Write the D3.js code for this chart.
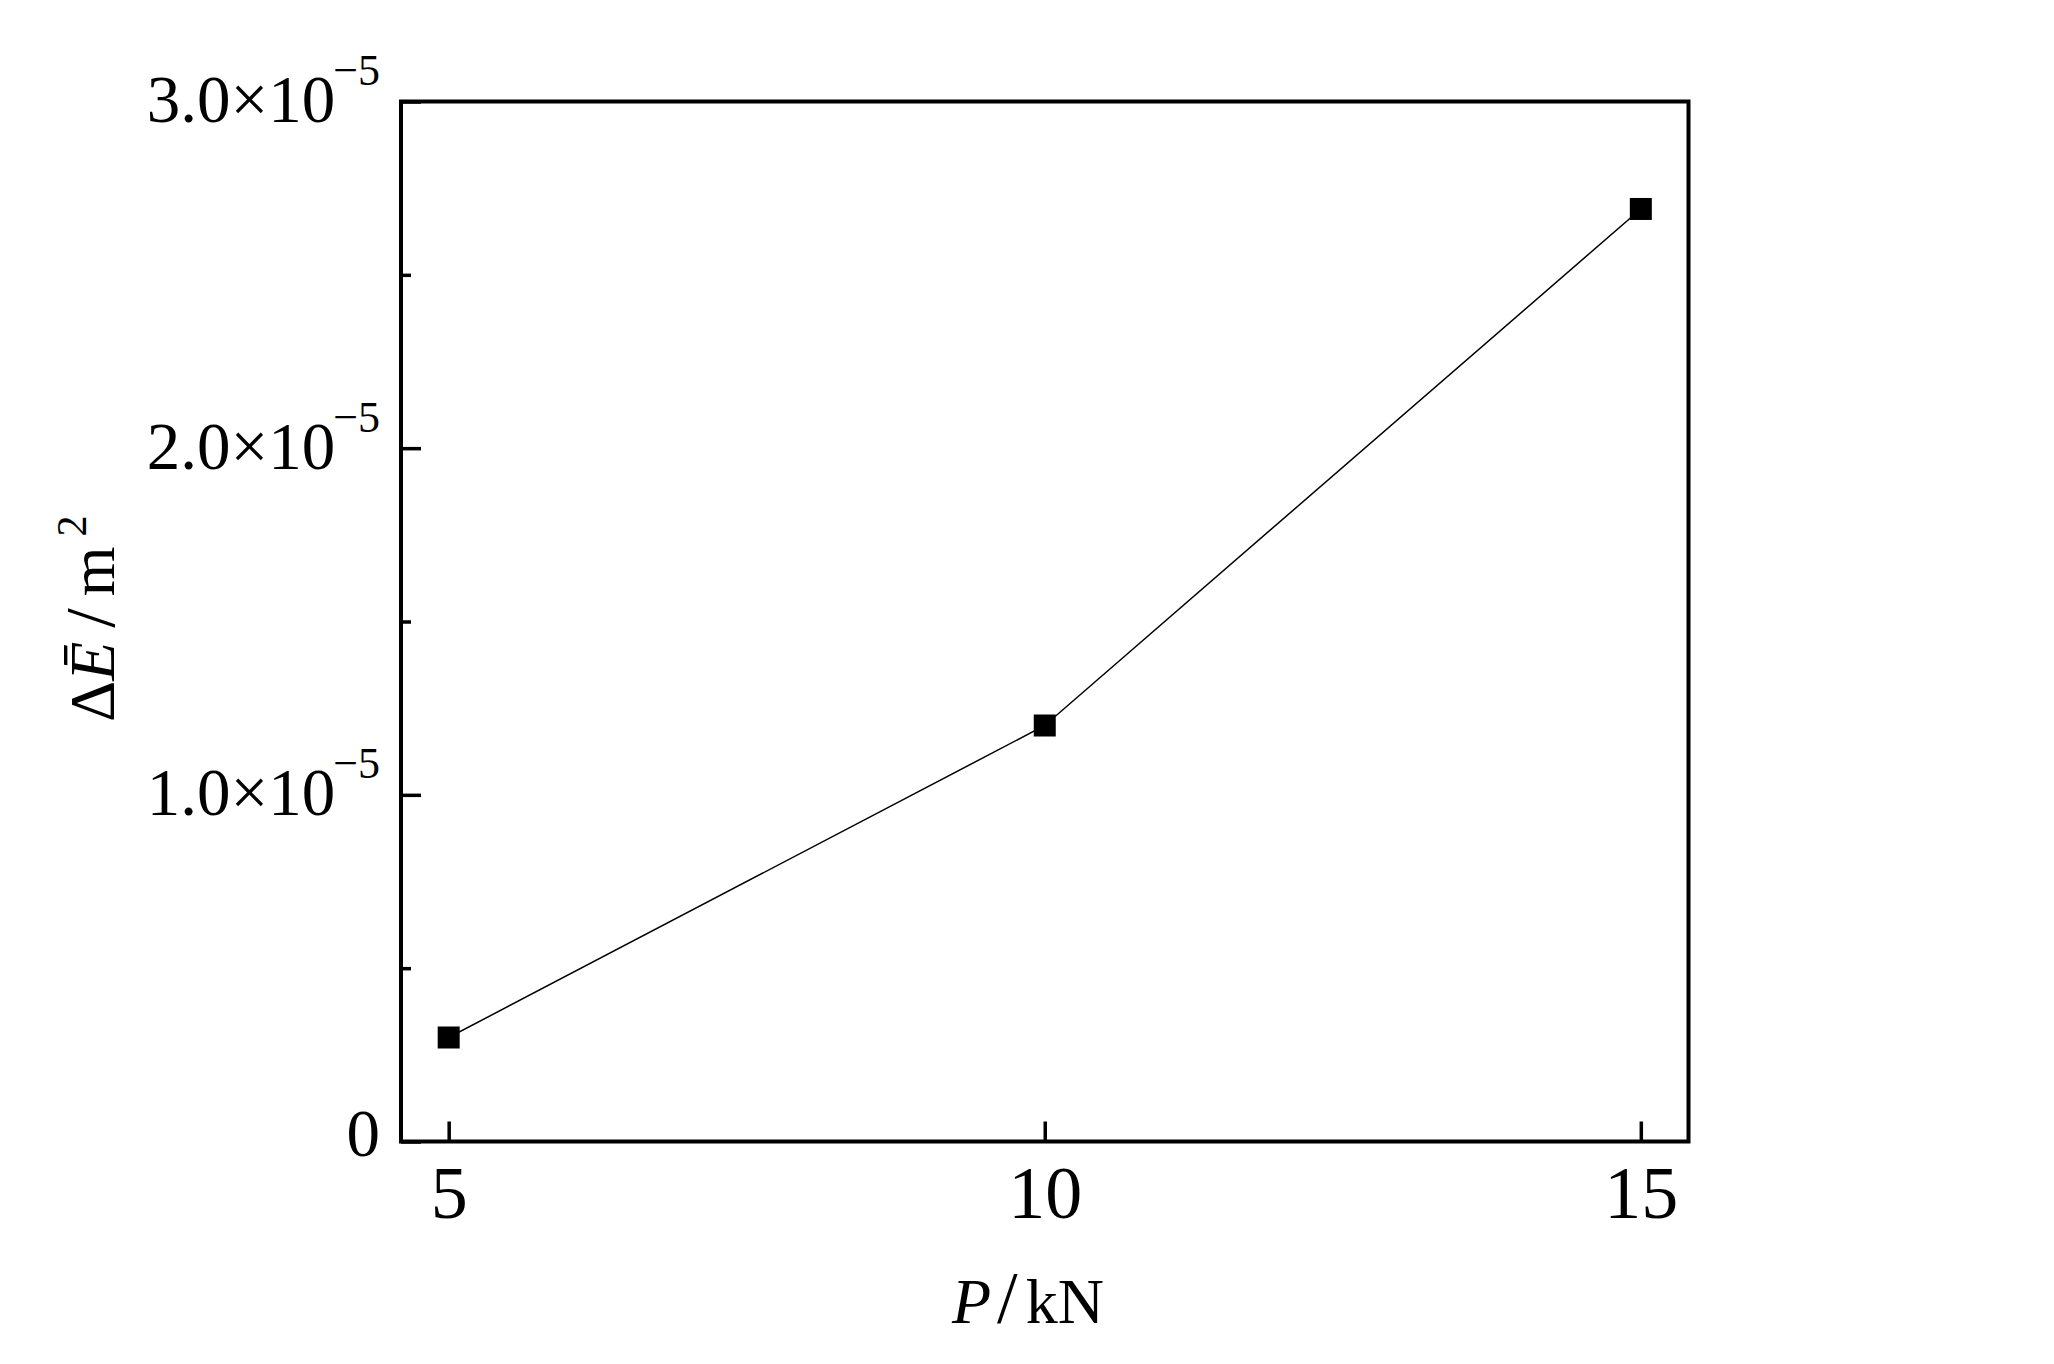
<!DOCTYPE html>
<html>
<head>
<meta charset="utf-8">
<script src="https://cdn.jsdelivr.net/npm/d3@7"></script>
<style>
  body { margin: 0; background: #fff; }
  svg { display: block; font-family: "Liberation Serif", "Times New Roman", serif; }
</style>
</head>
<body>
<svg id="chart" width="2054" height="1364"></svg>
<script>
const loads = [5, 10, 15];
const deltaE = [3.0e-6, 1.2e-5, 2.69e-5];
const xTicks = [5, 10, 15];
const yTicks = [0, 1e-5, 2e-5, 3e-5];
const yMinorTicks = [0.5e-5, 1.5e-5, 2.5e-5];
const yTickMantissa = ["0", "1.0", "2.0", "3.0"];
const yTickExponent = "\u22125";

const width = 2054;
const height = 1364;
const margins = { top: 101.5, right: 365.5, bottom: 222.5, left: 401 };

const svg = d3.select("#chart");

const x = d3
  .scaleLinear()
  .domain([4.6, 15.4])
  .range([margins.left, width - margins.right]);

const y = d3
  .scaleLinear()
  .domain([0, 3e-5])
  .range([height - margins.bottom, margins.top]);

svg.append("rect")
  .attr("width", width)
  .attr("height", height)
  .attr("fill", "#fff");

// x axis, ticks inside
const xAxis = svg
  .append("g")
  .attr("transform", `translate(0,${y(0)})`)
  .call(d3.axisBottom(x).tickValues(xTicks).tickSize(-20).tickFormat(d3.format("d")));
xAxis.select(".domain").remove();
xAxis.selectAll(".tick line").attr("stroke", "#000").attr("stroke-width", 3.5);
xAxis.selectAll(".tick text")
  .attr("y", 76)
  .attr("dy", 0)
  .attr("fill", "#000")
  .attr("font-size", 74)
  .attr("font-family", "Liberation Serif");

// y axis minor ticks
const yMinor = svg
  .append("g")
  .attr("transform", `translate(${x(4.6)},0)`)
  .call(d3.axisLeft(y).tickValues(yMinorTicks).tickSize(-10).tickFormat(""));
yMinor.select(".domain").remove();
yMinor.selectAll(".tick line").attr("stroke", "#000").attr("stroke-width", 3.5);

// y axis major ticks
const yAxis = svg
  .append("g")
  .attr("transform", `translate(${x(4.6)},0)`)
  .call(d3.axisLeft(y).tickValues(yTicks).tickSize(-20));
yAxis.select(".domain").remove();
yAxis.selectAll(".tick line").attr("stroke", "#000").attr("stroke-width", 3.5);
yAxis.selectAll(".tick text")
  .attr("x", -21)
  .attr("dy", 0)
  .attr("y", (d, i) => (i === 0 ? 14 : 20))
  .attr("fill", "#000")
  .attr("font-size", 67)
  .attr("font-family", "Liberation Serif")
  .text(null)
  .each(function (d, i) {
    const t = d3.select(this);
    if (i === 0) {
      t.text(yTickMantissa[i]);
      return;
    }
    t.append("tspan").text(yTickMantissa[i] + "\u00d710");
    t.append("tspan")
      .attr("font-size", 44)
      .attr("dx", -2)
      .attr("dy", -37)
      .text(yTickExponent);
  });

// frame
svg.append("rect")
  .attr("x", margins.left)
  .attr("y", margins.top)
  .attr("width", width - margins.left - margins.right)
  .attr("height", height - margins.top - margins.bottom)
  .attr("fill", "none")
  .attr("stroke", "#000")
  .attr("stroke-width", 4);

const points = loads.map((p, i) => ({ p: p, v: deltaE[i] }));

const line = d3.line().x((d) => x(d.p)).y((d) => y(d.v));

svg.append("path")
  .datum(points)
  .attr("d", line)
  .attr("fill", "none")
  .attr("stroke", "#000")
  .attr("stroke-width", 1.5);

const size = 22;
svg.selectAll(".marker")
  .data(points)
  .enter()
  .append("rect")
  .attr("class", "marker")
  .attr("x", (d) => x(d.p) - size / 2)
  .attr("y", (d) => y(d.v) - size / 2)
  .attr("width", size)
  .attr("height", size)
  .attr("fill", "#000");

// x title
const xTitle = svg.append("text")
  .attr("x", 952)
  .attr("y", 1323)
  .attr("font-size", 64)
  .attr("fill", "#000");
xTitle.append("tspan").attr("font-style", "italic").text("P");
xTitle.append("tspan").attr("dx", 6).attr("font-size", 74).text("/");
xTitle.append("tspan").attr("dx", 8).text("kN");

// y title
const yTitle = svg.append("text")
  .attr("transform", "translate(114,722) rotate(-90)")
  .attr("font-size", 64)
  .attr("fill", "#000");
yTitle.append("tspan").text("\u0394");
yTitle.append("tspan").attr("font-style", "italic").text("E\u0304");
yTitle.append("tspan").attr("dx", 14).attr("font-size", 70).text("/");
yTitle.append("tspan").attr("dx", 12).text("m");
yTitle.append("tspan")
  .attr("font-size", 42)
  .attr("dx", 10)
  .attr("dy", -28)
  .text("2");
</script>
</body>
</html>
